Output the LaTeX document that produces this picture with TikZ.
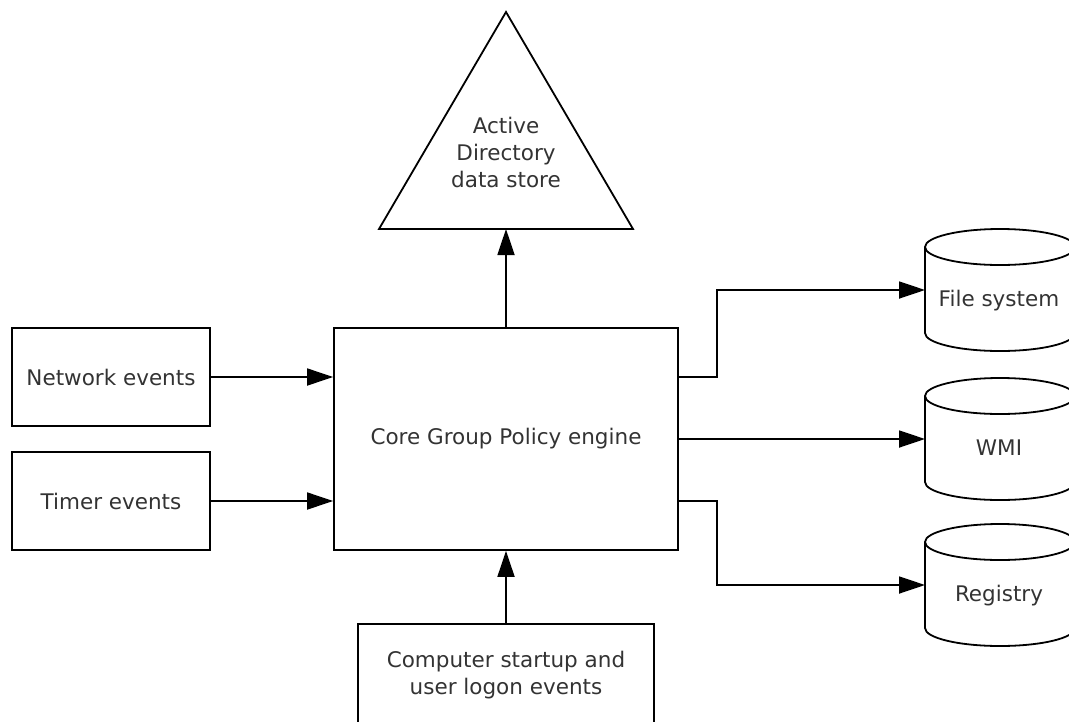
\documentclass[tikz,border=0pt]{standalone}
\usepackage{fontspec}
\setmainfont{DejaVu Sans}
\usetikzlibrary{arrows.meta}

\begin{document}
\begin{tikzpicture}[x=1pt,y=-1pt,line width=1.8pt,
  box/.style={draw,rectangle,inner sep=0pt,text=black!80,font=\fontsize{21.5}{27}\selectfont,align=center},
  lbl/.style={text=black!80,font=\fontsize{21.5}{27}\selectfont,align=center},
  arr/.style={-{Triangle[length=26pt,width=17pt]}}]
\useasboundingbox (0,0) rectangle (1069,721);
\node[box,minimum width=344pt,minimum height=222pt] (v1) at (506,439) {Core Group Policy engine};
\node[box,minimum width=198pt,minimum height=98pt] (v2) at (111,377) {Network events};
\node[box,minimum width=198pt,minimum height=98pt] (v3) at (111,501) {Timer events};
\node[box,minimum width=296pt,minimum height=102pt] (v4) at (506,675) {Computer startup and\\user logon events};
\coordinate (s1) at (506,12);
\coordinate (s2) at (379,229);
\coordinate (s3) at (633,229);
\draw (s1) -- (s2) -- (s3) -- cycle;
\node[lbl] (s) at (506,152) {Active\\Directory\\data store};
\foreach \n/\y/\t in {v5/290/File system,v6/439/WMI,v7/585/Registry}{
  \draw (925,\y-43) -- (925,\y+43) arc[start angle=180,end angle=360,x radius=75pt,y radius=18pt] -- (1075,\y-43);
  \draw (1000,\y-43) ellipse[x radius=75pt,y radius=18pt];
  \node[lbl,anchor=base] (\n) at (999,\y+16) {\t};
  \coordinate (\n w) at (925,\y);
}
\draw[arr] (v2.east) -- (v1.west |- v2.east);
\draw[arr] (v3.east) -- (v1.west |- v3.east);
\draw[arr] (v4.north) -- (v1.south);
\draw[arr] (v1.north) -- (v1.north |- s2);
\draw[arr] (v1.east |- v2.east) -- ++(38,0) |- (v5w);
\draw[arr] (v1.east) -- (v6w);
\draw[arr] (v1.east |- v3.east) -- ++(38,0) |- (v7w);
\end{tikzpicture}
\end{document}
